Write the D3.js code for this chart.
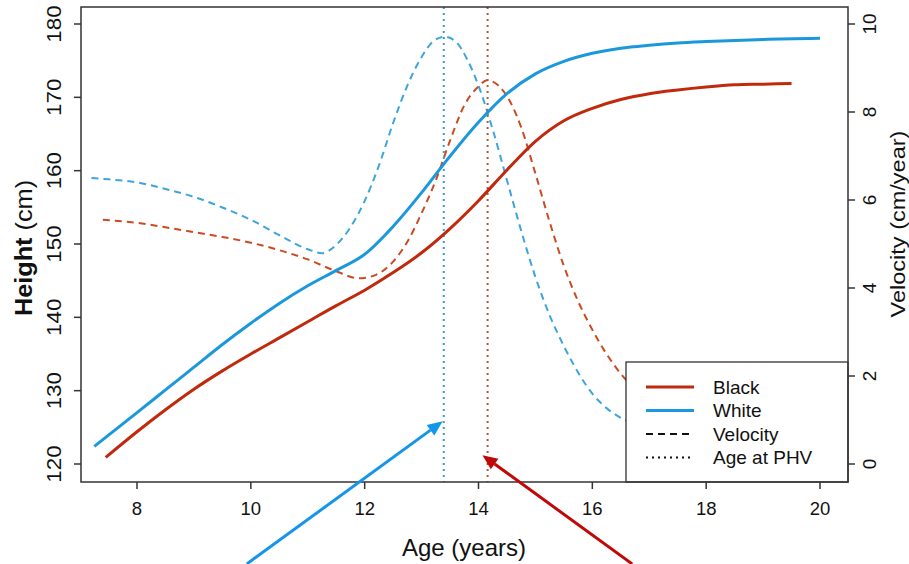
<!DOCTYPE html>
<html><head><meta charset="utf-8">
<script src="https://cdn.jsdelivr.net/npm/d3@7"></script>
<style>body{margin:0;background:#fff}svg{display:block}text{font-family:"Liberation Sans",Arial,sans-serif;fill:#111}</style>
</head><body><svg id="c" width="909" height="564"></svg>
<script>
// ---- data ----
const whiteHeightAge = [7.25,8,8.5,9,9.5,10,10.5,11,11.5,12,12.5,13,13.4,14,14.5,15,15.5,16,16.5,17,17.5,18,19,20];
const whiteHeight    = [122.4,127.0,130.1,133.2,136.3,139.2,141.9,144.3,146.4,148.6,152.4,157.0,161.0,166.6,170.5,173.2,174.9,176.0,176.7,177.1,177.4,177.6,177.9,178.05];
const blackHeightAge = [7.45,8,8.5,9,9.5,10,10.5,11,11.5,12,12.5,13,13.5,14,14.5,15,15.5,16,16.5,17,17.5,18,18.5,19,19.5];
const blackHeight    = [120.9,124.4,127.4,130.2,132.7,135.0,137.2,139.4,141.6,143.7,146.1,148.8,152.1,155.9,160.1,164.0,166.8,168.5,169.7,170.5,171.0,171.4,171.7,171.8,171.9];
const whiteVelAge = [7.2,7.5,8,8.5,9,9.5,10,10.5,11,11.25,11.5,11.75,12,12.25,12.5,12.75,13,13.2,13.4,13.6,13.8,14,14.25,14.5,14.75,15,15.25,15.5,15.75,16,16.25,16.5,17,17.5,18,19,20];
const whiteVel    = [6.5,6.47,6.4,6.25,6.07,5.83,5.55,5.2,4.88,4.79,4.98,5.38,5.98,6.78,7.75,8.6,9.25,9.6,9.71,9.6,9.2,8.6,7.6,6.45,5.3,4.25,3.38,2.68,2.08,1.6,1.27,1.05,0.8,0.6,0.45,0.3,0.2];
const blackVelAge = [7.4,8,8.5,9,9.5,10,10.5,11,11.5,11.9,12.2,12.5,12.75,13,13.25,13.5,13.75,14,14.15,14.35,14.55,14.75,15,15.25,15.5,15.75,16,16.25,16.5,16.75,17,17.5,18,18.5,19,19.5];
const blackVel    = [5.55,5.48,5.38,5.27,5.16,5.03,4.86,4.65,4.38,4.22,4.3,4.6,5.05,5.7,6.45,7.35,8.15,8.58,8.72,8.6,8.25,7.65,6.6,5.5,4.5,3.7,3.05,2.5,2.05,1.7,1.4,0.95,0.7,0.5,0.4,0.3];
const phvAge = {white: 13.39, black: 14.16};
const xTicks = [8,10,12,14,16,18,20];
const heightTicks = [120,130,140,150,160,170,180];
const velTicks = [0,2,4,6,8,10];
const legendLabels = ["Black","White","Velocity","Age at PHV"];
// annotation arrows (age, velocity units): start -> tip
const arrowWhite = [[9.93,-2.27],[13.37,0.97]];
const arrowBlack = [[16.70,-2.27],[14.07,0.2]];

// ---- styles ----
const RED = "#c0290c", BLUE = "#1b98dc";
const svg = d3.select("#c");
const x = d3.scaleLinear().domain([8,20]).range([137,820]);
const yH = d3.scaleLinear().domain([120,180]).range([464,24]);
const yV = d3.scaleLinear().domain([0,10]).range([464,24]);
const box = {l:81, r:848, t:7, b:482};

const lineH = d3.line().x(d=>x(d[0])).y(d=>yH(d[1])).curve(d3.curveMonotoneX);
const lineV = d3.line().x(d=>x(d[0])).y(d=>yV(d[1])).curve(d3.curveMonotoneX);
const zip = (a,b)=>a.map((v,i)=>[v,b[i]]);

// velocity dashed
svg.append("path").attr("d", lineV(zip(whiteVelAge,whiteVel))).attr("fill","none")
  .attr("stroke","#3ea5dc").attr("stroke-width",2).attr("stroke-dasharray","7,5");
svg.append("path").attr("d", lineV(zip(blackVelAge,blackVel))).attr("fill","none")
  .attr("stroke","#cc4a22").attr("stroke-width",2).attr("stroke-dasharray","7,5");

// PHV dotted
svg.append("line").attr("x1",x(phvAge.white)).attr("x2",x(phvAge.white)).attr("y1",box.t).attr("y2",box.b)
  .attr("stroke","#3a9ad6").attr("stroke-width",2).attr("stroke-dasharray","2,4");
svg.append("line").attr("x1",x(phvAge.black)).attr("x2",x(phvAge.black)).attr("y1",box.t).attr("y2",box.b)
  .attr("stroke","#b35a32").attr("stroke-width",2).attr("stroke-dasharray","2,4");

// heights solid
svg.append("path").attr("d", lineH(zip(blackHeightAge,blackHeight))).attr("fill","none")
  .attr("stroke",RED).attr("stroke-width",3);
svg.append("path").attr("d", lineH(zip(whiteHeightAge,whiteHeight))).attr("fill","none")
  .attr("stroke",BLUE).attr("stroke-width",3);

// legend
const lg = svg.append("g");
lg.append("rect").attr("x",626).attr("y",362).attr("width",box.r-626).attr("height",box.b-362)
  .attr("fill","#fff").attr("stroke","#222").attr("stroke-width",1.2);
const lstyles = [
  {c:RED,w:3,d:null},{c:BLUE,w:3,d:null},{c:"#111",w:2,d:"7,5"},{c:"#111",w:2,d:"2,4"}];
legendLabels.forEach((t,i)=>{
  const yy = 387 + i*23.5;
  lg.append("line").attr("x1",646).attr("x2",694).attr("y1",yy).attr("y2",yy)
    .attr("stroke",lstyles[i].c).attr("stroke-width",lstyles[i].w).attr("stroke-dasharray",lstyles[i].d);
  lg.append("text").attr("x",713).attr("y",yy+6.5).attr("font-size",19).text(t);
});

// box
svg.append("rect").attr("x",box.l).attr("y",box.t).attr("width",box.r-box.l).attr("height",box.b-box.t)
  .attr("fill","none").attr("stroke","#333").attr("stroke-width",1.5);

// x axis
const gx = svg.append("g");
xTicks.forEach(t=>{
  gx.append("line").attr("x1",x(t)).attr("x2",x(t)).attr("y1",box.b).attr("y2",box.b+7).attr("stroke","#333").attr("stroke-width",1.5);
  gx.append("text").attr("x",x(t)).attr("y",515).attr("text-anchor","middle").attr("font-size",18.5).text(t);
});
svg.append("text").attr("x",464).attr("y",556).attr("text-anchor","middle").attr("font-size",24).text("Age (years)");

// left axis
heightTicks.forEach(t=>{
  svg.append("line").attr("x1",box.l-7).attr("x2",box.l).attr("y1",yH(t)).attr("y2",yH(t)).attr("stroke","#333").attr("stroke-width",1.5);
  svg.append("text").attr("transform",`translate(61,${yH(t)}) rotate(-90) scale(1.12,1)`).attr("text-anchor","middle").attr("font-size",20).text(t);
});
const hl = svg.append("text").attr("transform",`translate(32,248) rotate(-90) scale(1.1,1)`).attr("text-anchor","middle").attr("font-size",23);
hl.append("tspan").attr("font-weight","bold").text("Height");
hl.append("tspan").text(" (cm)");

// right axis
velTicks.forEach(t=>{
  svg.append("line").attr("x1",box.r).attr("x2",box.r+7).attr("y1",yV(t)).attr("y2",yV(t)).attr("stroke","#333").attr("stroke-width",1.5);
  svg.append("text").attr("transform",`translate(876,${yV(t)}) rotate(-90)`).attr("text-anchor","middle").attr("font-size",19).text(t);
});
svg.append("text").attr("transform",`translate(905,224) rotate(-90) scale(1.12,1)`).attr("text-anchor","middle").attr("font-size",21).text("Velocity (cm/year)");

// arrows
function arrow(p, color){
  const [a,b] = p.map(d=>[x(d[0]), yV(d[1])]);
  const ang = Math.atan2(b[1]-a[1], b[0]-a[0]);
  const L = 15, W = 6.5;
  const bx = b[0]-L*Math.cos(ang), by = b[1]-L*Math.sin(ang);
  svg.append("line").attr("x1",a[0]).attr("y1",a[1]).attr("x2",bx).attr("y2",by).attr("stroke",color).attr("stroke-width",3);
  svg.append("path").attr("d",`M${b[0]},${b[1]} L${bx+W*Math.sin(ang)},${by-W*Math.cos(ang)} L${bx-W*Math.sin(ang)},${by+W*Math.cos(ang)} Z`).attr("fill",color);
}
arrow(arrowWhite, "#1595ea");
arrow(arrowBlack, "#c00808");
</script></body></html>
